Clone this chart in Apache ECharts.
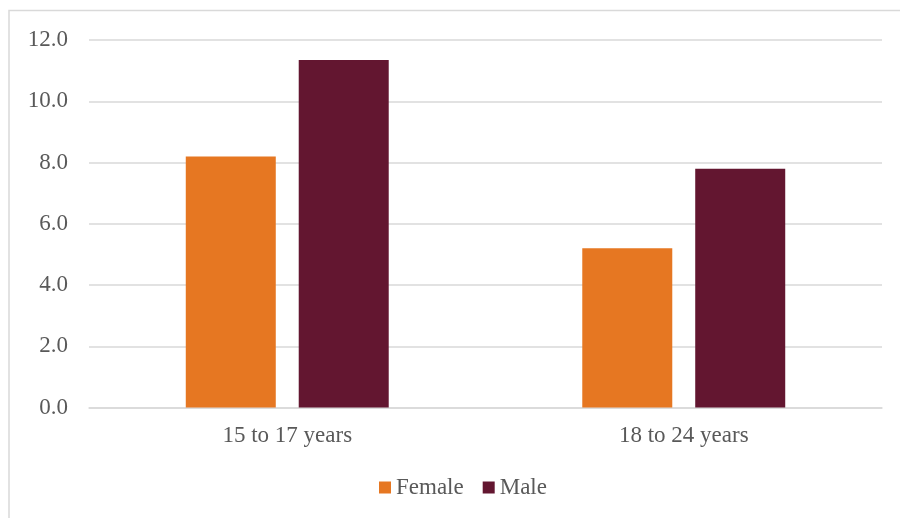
<!DOCTYPE html>
<html><head><meta charset="utf-8">
<script src="https://cdn.jsdelivr.net/npm/echarts@6/dist/echarts.min.js"></script>
<style>html,body{margin:0;padding:0;background:#fff}#c{width:900px;height:518px}</style>
</head><body><div id="c"></div>
<script>
const categories = ['15 to 17 years', '18 to 24 years'];
const female = [8.2, 5.2];
const male = [11.35, 7.8];
const yTicks = { min: 0, max: 12, interval: 2 };

const chart = echarts.init(document.getElementById('c'), null, { renderer: 'canvas' });
const font = '"Liberation Serif", "Times New Roman", serif';
chart.setOption({
  animation: false,
  backgroundColor: '#fff',
  textStyle: { fontFamily: font },
  graphic: [{
    type: 'rect', silent: true, z: -1,
    shape: { x: 9, y: 10.5, width: 1000, height: 1000 },
    style: { fill: 'none', stroke: '#d9d9d9', lineWidth: 1.5 }
  }],
  grid: { left: 89, right: 18, top: 40, bottom: 110.5, containLabel: false },
  legend: {
    left: 379, top: 476, padding: 0,
    itemWidth: 12, itemHeight: 12, itemGap: 19,
    icon: 'rect',
    textStyle: { fontFamily: font, fontSize: 23, color: '#595959' },
    data: ['Female', 'Male']
  },
  xAxis: {
    type: 'category', data: categories,
    axisLine: { show: true, lineStyle: { color: '#d9d9d9', width: 1.5 } },
    axisTick: { show: false },
    axisLabel: { fontFamily: font, fontSize: 23, color: '#595959', margin: 17 }
  },
  yAxis: {
    type: 'value', min: yTicks.min, max: yTicks.max, interval: yTicks.interval,
    axisLine: { show: false }, axisTick: { show: false },
    splitLine: { lineStyle: { color: '#d9d9d9', width: 1.5 } },
    axisLabel: { fontFamily: font, fontSize: 23, color: '#595959', margin: 21,
      formatter: v => v.toFixed(1) }
  },
  series: [
    { name: 'Female', type: 'bar', data: female, barWidth: 90, barGap: '25.5%',
      itemStyle: { color: '#E67722' } },
    { name: 'Male', type: 'bar', data: male, barWidth: 90,
      itemStyle: { color: '#631630' } }
  ]
});
</script></body></html>
